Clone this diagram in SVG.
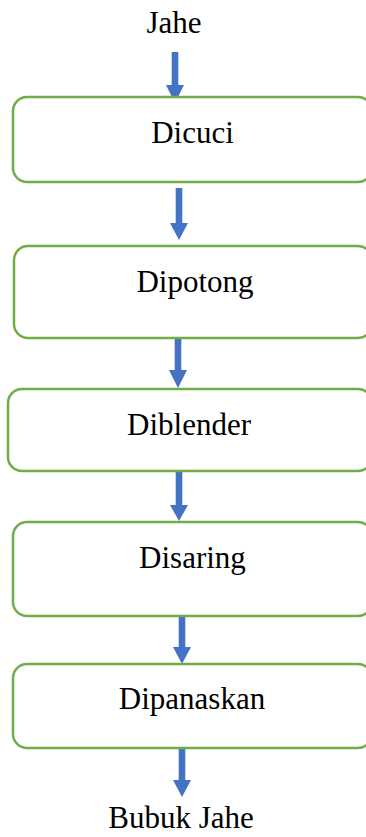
<svg xmlns="http://www.w3.org/2000/svg" width="366" height="837" viewBox="0 0 366 837">
<style>
.box{fill:#fff;stroke:#70AD47;stroke-width:2.5}
.lbl{font-family:"Liberation Serif","Times New Roman",serif;font-size:31px;fill:#000;text-anchor:middle}
.arr{fill:#4472C4}
</style>
<rect width="366" height="837" fill="#fff"/>
<g id="connectors">
<polygon class="arr" points="171.7,52 178.3,52 178.3,85 184,85 175,103 166,85 171.7,85"/>
<polygon class="arr" points="175.7,188 182.3,188 182.3,223 188,223 179,240 170,223 175.7,223"/>
<polygon class="arr" points="174.7,338 181.3,338 181.3,370 187,370 178,388 169,370 174.7,370"/>
<polygon class="arr" points="175.7,471 182.3,471 182.3,505 188,505 179,521 170,505 175.7,505"/>
<polygon class="arr" points="178.7,615 185.3,615 185.3,647 191,647 182,664 173,647 178.7,647"/>
<polygon class="arr" points="178.7,748 185.3,748 185.3,780 191,780 182,797 173,780 178.7,780"/>
</g>
<g id="n-jahe"><text class="lbl" x="174" y="33">Jahe</text></g>
<g id="n-dicuci"><rect class="box" x="13" y="97" width="359" height="85" rx="14"/><text class="lbl" x="192.5" y="143">Dicuci</text></g>
<g id="n-dipotong"><rect class="box" x="14" y="246" width="358" height="92" rx="14"/><text class="lbl" x="195" y="292">Dipotong</text></g>
<g id="n-diblender"><rect class="box" x="8" y="389" width="364" height="82" rx="14"/><text class="lbl" x="189" y="435">Diblender</text></g>
<g id="n-disaring"><rect class="box" x="13" y="522" width="359" height="94" rx="14"/><text class="lbl" x="192.5" y="568">Disaring</text></g>
<g id="n-dipanaskan"><rect class="box" x="13" y="664" width="359" height="84" rx="14"/><text class="lbl" x="192" y="709">Dipanaskan</text></g>
<g id="n-bubuk"><text class="lbl" x="181" y="828">Bubuk Jahe</text></g>
</svg>
